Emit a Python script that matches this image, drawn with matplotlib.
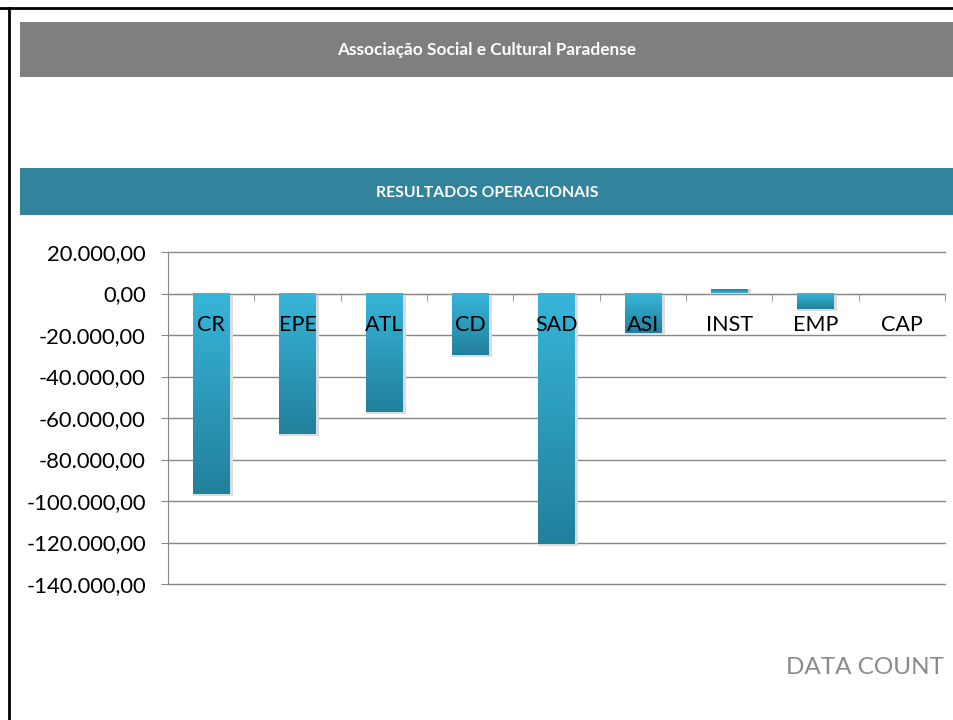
import numpy as np
import matplotlib.pyplot as plt
from matplotlib.colors import LinearSegmentedColormap
from matplotlib.lines import Line2D
from matplotlib.patches import Rectangle

# data
categories = ['CR', 'EPE', 'ATL', 'CD', 'SAD', 'ASI', 'INST', 'EMP', 'CAP']
results = [-96700, -67800, -57200, -29800, -120700, -19000, 1500, -7700, 0]
y_ticks = [20000, 0, -20000, -40000, -60000, -80000, -100000, -120000, -140000]
y_tick_labels = ['20.000,00', '0,00', '-20.000,00', '-40.000,00', '-60.000,00',
                 '-80.000,00', '-100.000,00', '-120.000,00', '-140.000,00']

title_top = 'Associação Social e Cultural Paradense'
title_band = 'RESULTADOS OPERACIONAIS'
brand = 'DATA COUNT'

plt.rcParams['font.family'] = ['Lato', 'DejaVu Sans']

fig = plt.figure(figsize=(9.54, 7.2), dpi=100)
W, H = 954, 720

def fx(px):
    return px / W

def fy(py):
    return 1 - py / H

# frame lines (black, top and left)
fig.add_artist(Line2D([fx(0), fx(954)], [fy(8), fy(8)], color='black', lw=2))
fig.add_artist(Line2D([fx(9), fx(9)], [fy(8), fy(720)], color='black', lw=2))

# gray header band
fig.add_artist(Rectangle((fx(20), fy(77)), fx(954 - 20), (77 - 22) / H,
                         facecolor='#7f7f7f', edgecolor='none'))
fig.text(fx(487), fy(49.5), title_top, color='white', fontsize=12.4,
         fontweight='bold', ha='center', va='center')

# teal band
fig.add_artist(Rectangle((fx(20), fy(215)), fx(954 - 20), (215 - 168) / H,
                         facecolor='#31849b', edgecolor='none'))
fig.text(fx(487), fy(193), title_band, color='white', fontsize=11.3,
         fontweight='bold', ha='center', va='center')

fig.text(fx(786), fy(668), brand, color='#8a8a8a', fontsize=17.5,
         ha='left', va='center')

ax = fig.add_axes([fx(168), fy(584), fx(945 - 168), (584 - 252) / H])

x = np.arange(len(categories))
width = 0.42
cmap = LinearSegmentedColormap.from_list('bar', ['#37b5d9', '#22809c'])
grad = np.linspace(0, 1, 64).reshape(-1, 1)

# soft shadow under each bar
for xi, v in zip(x, results):
    sh = v - 900 if v <= 0 else v + 900
    ax.bar(xi + 0.02, sh, width * 1.1, color='#dcdcdc', zorder=2)

for xi, v in zip(x, results):
    if v == 0:
        continue
    g = grad if v < 0 else grad[::-1]
    ax.imshow(g, cmap=cmap, aspect='auto', zorder=3,
              extent=[xi - width / 2, xi + width / 2, v, 0] if v < 0
              else [xi - width / 2, xi + width / 2, 0, v],
              interpolation='bilinear')

# category labels sit just under the zero line, on top of the bars
for xi, name in zip(x, categories):
    ax.text(xi, -15000, name, ha='center', va='center', fontsize=15.5,
            color='black', zorder=5)

ax.set_xlim(-0.5, len(categories) - 0.5)
ax.set_ylim(-140000, 20000)
ax.set_yticks(y_ticks)
ax.set_yticklabels(y_tick_labels, fontsize=15.8)
ax.set_xticks([])
ax.set_xticks(np.arange(len(categories) + 1) - 0.5, minor=True)
ax.tick_params(axis='x', which='minor', length=5, color='#888888', direction='out')
ax.tick_params(axis='y', length=5, color='#888888', pad=11)

for yv in y_ticks:
    ax.axhline(yv, color='#888888', lw=1, zorder=1, clip_on=False)
for s in ['top', 'right']:
    ax.spines[s].set_visible(False)
ax.spines['bottom'].set_position(('data', 0))
ax.spines['bottom'].set_color('#888888')
ax.spines['bottom'].set_zorder(2.5)
ax.spines['left'].set_color('#888888')

fig.savefig('out.png', dpi=100)
